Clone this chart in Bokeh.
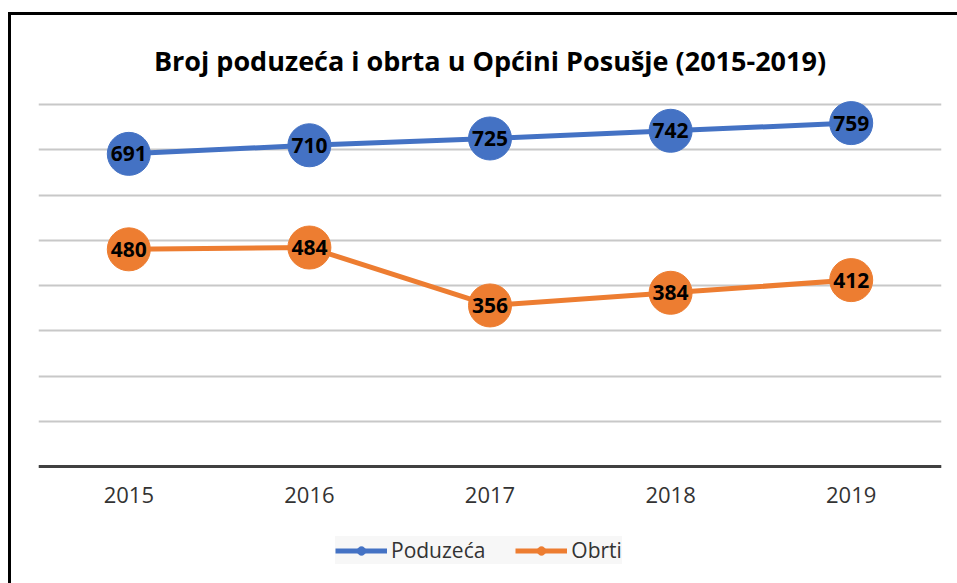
from bokeh.plotting import figure
from bokeh.models import ColumnDataSource, Legend, LegendItem, SingleIntervalTicker, FactorRange, Range1d
from bokeh.core.properties import value
from bokeh.embed import file_html
from bokeh.resources import INLINE

years = ["2015", "2016", "2017", "2018", "2019"]
poduzeca = [691, 710, 725, 742, 759]
obrti = [480, 484, 356, 384, 412]

BLUE = "#4472C4"
ORANGE = "#ED7D31"
FONT = "Open Sans"

# frame extends below the value axis so the legend can sit inside it
p = figure(frame_width=903, frame_height=488, x_range=FactorRange(*years, range_padding=0),
           y_range=Range1d(-258.5, 820), output_backend="svg", toolbar_location=None,
           min_border_left=27, min_border_right=16, min_border_bottom=0, min_border_top=80)
p.styles = {"border-left": "3px solid black", "border-top": "3px solid black",
            "margin-left": "8px", "margin-top": "12px"}
p.outline_line_color = None

p.title.text = "Broj poduzeća i obrta u Općini Posušje (2015-2019)"
p.title.align = "center"
p.title.text_font = FONT
p.title.text_font_style = "bold"
p.title.text_font_size = "27px"
p.title.text_color = "#000000"
p.title.standoff = 34

p.yaxis.visible = False
p.yaxis.ticker = SingleIntervalTicker(interval=100)
p.yaxis.bounds = (0, 800)
p.ygrid.ticker = SingleIntervalTicker(interval=100)
p.ygrid.bounds = (0, 800)
p.ygrid.grid_line_color = "#c8c8c8"
p.ygrid.grid_line_width = 2
p.xgrid.grid_line_color = None

p.xaxis.fixed_location = 0
p.xaxis.axis_line_color = "#404040"
p.xaxis.axis_line_width = 3
p.xaxis.major_tick_line_color = None
p.xaxis.minor_tick_line_color = None
p.xaxis.major_label_text_font = FONT
p.xaxis.major_label_text_font_size = "22px"
p.xaxis.major_label_text_color = "#333333"
p.xaxis.major_label_standoff = 14

src = ColumnDataSource(dict(x=years, p=poduzeca, o=obrti,
                            pl=[str(v) for v in poduzeca], ol=[str(v) for v in obrti]))

lp = p.line("x", "p", source=src, line_color=BLUE, line_width=5)
sp = p.scatter("x", "p", source=src, size=43, fill_color=BLUE, line_color=BLUE)
lo = p.line("x", "o", source=src, line_color=ORANGE, line_width=5)
so = p.scatter("x", "o", source=src, size=43, fill_color=ORANGE, line_color=ORANGE)

for col, ycol in [("pl", "p"), ("ol", "o")]:
    p.text("x", ycol, text=col, source=src, text_align="center", text_baseline="middle",
           text_font=value(FONT), text_font_style="bold", text_font_size="21px",
           text_color="#000000")

legend = Legend(items=[LegendItem(label="Poduzeća", renderers=[lp, sp]),
                       LegendItem(label="Obrti", renderers=[lo, so])],
                orientation="horizontal", location=(297, 19),
                label_text_font=FONT, label_text_font_size="21px", label_text_color="#333333",
                label_height=21, glyph_width=52, glyph_height=21, label_standoff=4, spacing=30,
                background_fill_color="#f7f7f7", border_line_color=None,
                padding=12, margin=0)
p.add_layout(legend)

open("out.html", "w").write(file_html(p, INLINE))
